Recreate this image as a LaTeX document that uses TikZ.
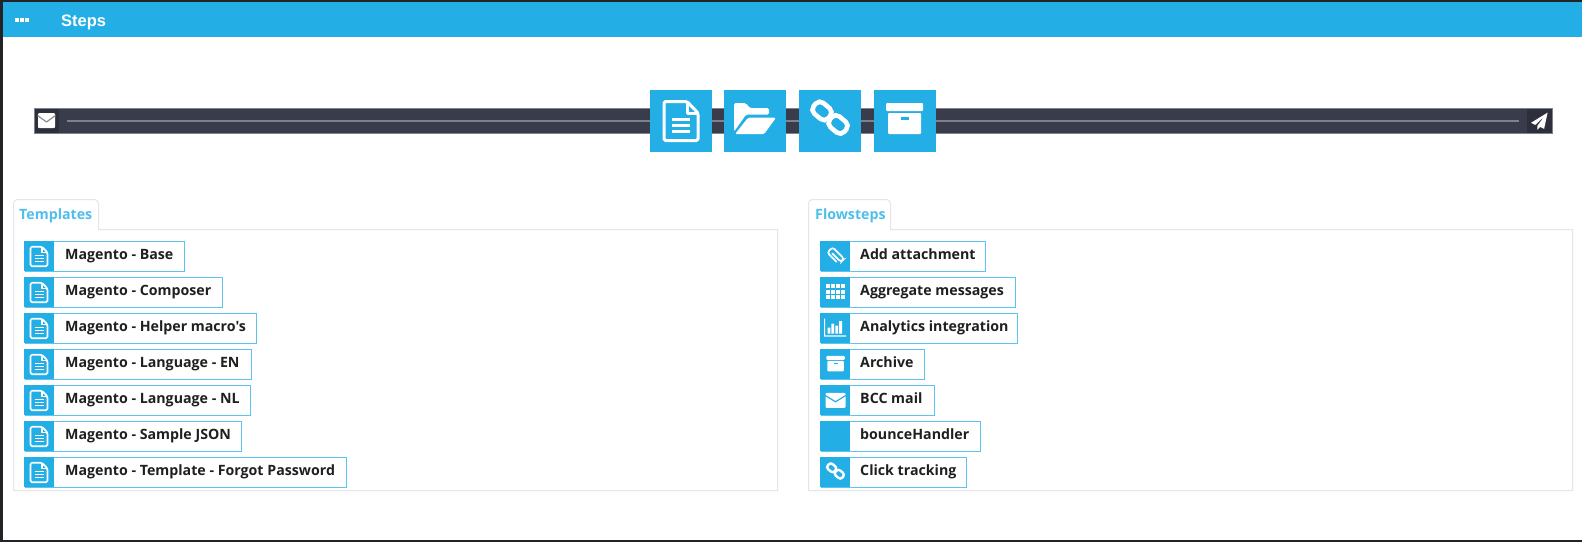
\documentclass[tikz,border=0pt]{standalone}
\usepackage{fontspec}
\setmainfont{Open Sans}
\newfontfamily\rowfont{Open Sans}
\newfontfamily\headfont{Liberation Sans}
\definecolor{brand}{HTML}{23AEE6}
\definecolor{barbg}{HTML}{393D4B}
\definecolor{barcell}{HTML}{2D303B}
\definecolor{barline}{HTML}{7F828C}
\definecolor{frame}{HTML}{222326}
\definecolor{panel}{HTML}{E4E6EA}
\definecolor{rowline}{HTML}{5CC4EE}
\tikzset{
  x=1pt,y=-1pt,
  rowbox/.style={draw=rowline,line width=1.3pt,fill=white,rectangle,anchor=north west,minimum height=29.5pt,inner sep=0pt},
  rowcell/.style={fill=brand,rectangle,anchor=north west,minimum width=30pt,minimum height=30.2pt,inner sep=0pt},
  rowtext/.style={anchor=base west,inner sep=0pt,font=\rowfont\bfseries\fontsize{14.2}{16}\selectfont,text=black!88},
  bigcell/.style={fill=brand,rectangle,minimum width=62pt,minimum height=62pt,inner sep=0pt},
  tabtext/.style={anchor=base west,inner sep=0pt,font=\rowfont\bfseries\fontsize{14.2}{16}\selectfont,text=brand!80!white},
  pics/docicon/.style={code={
    \draw[white,line width=#1,rounded corners=1.5pt,line join=round] (-17,-19.5)--(6,-19.5)--(17,-8)--(17,19.5)--(-17,19.5)--cycle;
    \draw[white,line width=#1,line join=round] (6,-19.5)--(6,-8)--(17,-8);
    \draw[white,line width=#1] (-9,-2)--(9,-2) (-9,4)--(9,4) (-9,10)--(9,10);
  }},
  pics/foldericon/.style={code={
    \fill[white,rounded corners=1.5pt] (-21,13)--(-21,-15.5)--(-9,-15.5)--(-5,-10.5)--(14,-10.5)--(14,-4)--(-9,-4)--cycle;
    \fill[white,rounded corners=1.5pt] (-7,-1)--(21,-1)--(9,15.5)--(-20,15.5)--cycle;
  }},
  pics/chainbig/.style={code={
    \draw[white,line width=4.6pt,rounded corners=5.5pt,rotate=-40] (-20,-7) rectangle (-1,7);
    \draw[white,line width=4.6pt,rounded corners=5.5pt,rotate=-40] (1,-7) rectangle (20,7);
  }},
  pics/chainsmall/.style={code={
    \draw[white,line width=2.4pt,rounded corners=2.8pt,rotate=-40] (-9.5,-3.4) rectangle (-.5,3.4);
    \draw[white,line width=2.4pt,rounded corners=2.8pt,rotate=-40] (.5,-3.4) rectangle (9.5,3.4);
  }},
  pics/archiveicon/.style={code={
    \fill[white,rounded corners=1pt] (-18.5,-15.5) rectangle (18.5,-7.5);
    \fill[white,rounded corners=1pt] (-16.5,-5.5) rectangle (16.5,15.5);
    \fill[brand] (-4,-1.2) rectangle (4,1);
  }},
  pics/mailicon/.style={code={
    \fill[white,rounded corners=1pt] (-10,-7.5) rectangle (10,7.5);
    \draw[#1,line width=1.2pt,line join=round] (-10.5,-5)--(0,1.5)--(10.5,-5);
  }},
  pics/planeicon/.style={code={
    \fill[white,line join=round] (8.3,-8.7)--(-8.3,1.5)--(-4,3.6)--(5,-5)--(-2,4.6)--(-2,8.6)--(0.8,5.6)--(4.8,7.6)--cycle;
  }},
  pics/clipicon/.style={code={
    \draw[white,line width=1.7pt,line cap=round,rounded corners=2.8pt,rotate=-45]
      (5,4)--(-8.2,4)--(-8.2,-3.6)--(8.2,-3.6)--(8.2,1)--(-4,1);
  }},
  pics/gridicon/.style={code={
    \foreach \ci in {-1.5,-0.5,0.5,1.5}\foreach \cj in {-1,0,1}
      \fill[white] ({\ci*5-1.8},{\cj*5.4-2}) rectangle ({\ci*5+1.8},{\cj*5.4+2});
  }},
  pics/charticon/.style={code={
    \fill[white] (-11,-9) rectangle (-9.8,9) (-11,7.8) rectangle (11,9);
    \fill[white] (-7.5,0) rectangle (-4.7,6) (-3.6,-4) rectangle (-0.8,6) (0.3,-2) rectangle (3.1,6) (4.2,-6.5) rectangle (7,6);
  }},
}
\begin{document}
\begin{tikzpicture}
\useasboundingbox (0,0) rectangle (1582,542);
% window
\fill[frame] (0,0) rectangle (1582,542);
\fill[white] (3,2) rectangle (1582,540);
\fill[brand] (3,2) rectangle (1582,37);
\node[anchor=base west,inner sep=0pt,text=white,font=\headfont\bfseries\fontsize{16.5}{18}\selectfont] (title) at (61,26) {Steps};
\foreach \dx in {15,20,25}\fill[white] (\dx,18.3) rectangle +(3.6,3.8);
% bar
\fill[barbg] (34,108) rectangle (1552,133);
\draw[barline,line width=.8pt] (34,108) rectangle (1552,133);
\fill[barcell] (34.5,108.5) rectangle (59,132.5);
\fill[barcell] (1527,108.5) rectangle (1551.5,132.5);
\coordinate (linestart) at (67,120.5);
\coordinate (lineend) at (1519,120.5);
\draw[barline,line width=2pt] (linestart)--(lineend);
\pic[xscale=.85] at (46.5,120.5) {mailicon=barbg!60!white};
\pic at (1539.3,121.3) {planeicon};
% big steps
\node[bigcell] (s1) at (681,121) {}; \pic at (681,121) {docicon=3pt};
\node[bigcell] (s2) at (755,121) {}; \pic at (755,118.7) {foldericon};
\node[bigcell] (s3) at (830,121) {}; \pic at (830,117.7) {chainbig};
\node[bigcell] (s4) at (904.5,121) {}; \pic at (904.5,118.5) {archiveicon};
% panels
\draw[panel,line width=1pt] (13.5,490.5) -- (777.5,490.5) -- (777.5,229.5) -- (98.5,229.5)
  {[rounded corners=4pt] -- (98.5,199.5) -- (13.5,199.5) -- (13.5,229.5)} -- cycle;
\draw[panel,line width=1pt] (808.5,490.5) -- (1572.5,490.5) -- (1572.5,229.5) -- (890.5,229.5)
  {[rounded corners=4pt] -- (890.5,199.5) -- (808.5,199.5) -- (808.5,229.5)} -- cycle;
\node[tabtext] (tabT) at (19,219) {Templates};
\node[tabtext] (tabF) at (815,219) {Flowsteps};
% template rows
\foreach \i/\ytop/\bw/\txt in {1/241/159/{Magento - Base},2/277/197.5/{Magento - Composer},3/313/231.5/{Magento - Helper macro's},4/349/226/{Magento - Language - EN},5/385/225/{Magento - Language - NL},6/421/216/{Magento - Sample JSON},7/457/321/{Magento - Template - Forgot Password}}{
  \node[rowbox,minimum width=\bw pt] (tb\i) at (24.5,\ytop) {};
  \node[rowcell] (tc\i) at (24,\ytop-.3) {};
  \pic[scale=.5] at (39,\ytop+15.5) {docicon=1.7pt};
  \node[rowtext] (tt\i) at (65,\ytop+18) {\txt};
}
% flowstep rows
\foreach \i/\ytop/\bw/\txt in {1/241/164/{Add attachment},2/277/194/{Aggregate messages},3/313/196/{Analytics integration},4/349/103/{Archive},5/385/113/{BCC mail},6/421/159/{bounceHandler},7/457/145/{Click tracking}}{
  \node[rowbox,minimum width=\bw pt] (fb\i) at (820.5,\ytop) {};
  \node[rowcell] (fc\i) at (820,\ytop-.3) {};
  \node[rowtext] (ft\i) at (860,\ytop+18) {\txt};
}
\pic at (835.8,255.5) {clipicon};
\pic at (835.3,291.5) {gridicon};
\pic at (835,327.5) {charticon};
\pic[scale=.5] at (835.5,363.6) {archiveicon};
\pic at (835.5,400.3) {mailicon=brand};
\pic at (835.5,471) {chainsmall};
\end{tikzpicture}
\end{document}
